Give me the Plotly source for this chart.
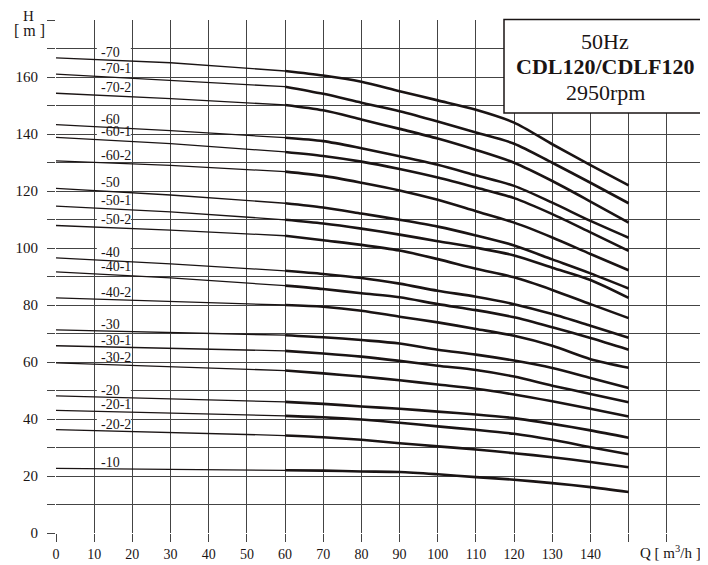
import plotly.graph_objects as go

# ---------------- data ----------------
Q_THIN = [0, 30, 60]
Q_THICK = [60, 70, 80, 90, 100, 110, 120, 130, 140, 150]

labels = ["-70", "-70-1", "-70-2", "-60", "-60-1", "-60-2", "-50", "-50-1", "-50-2",
          "-40", "-40-1", "-40-2", "-30", "-30-1", "-30-2", "-20", "-20-1", "-20-2", "-10"]

# H values at Q = 0, 30, 60, 70, 80, 90, 100, 110, 120, 130, 140, 150
h_70   = [166.7, 165.0, 162.1, 160.5, 158.3, 155.0, 151.8, 148.5, 144.0, 136.4, 129.1, 122.0]
h_70_1 = [161.0, 158.9, 156.6, 154.1, 151.0, 148.0, 144.4, 140.5, 136.6, 129.9, 122.9, 115.7]
h_70_2 = [154.3, 152.4, 150.2, 148.3, 145.1, 141.8, 138.4, 134.4, 129.9, 123.5, 116.3, 108.9]
h_60   = [143.3, 141.2, 138.7, 137.5, 135.0, 132.2, 129.2, 125.5, 121.8, 115.9, 109.5, 103.6]
h_60_1 = [138.8, 136.6, 133.7, 132.3, 130.3, 127.7, 124.7, 121.2, 117.5, 111.9, 105.5, 99.0]
h_60_2 = [130.6, 129.0, 126.8, 125.3, 122.9, 120.2, 116.9, 112.9, 108.9, 103.7, 97.9, 92.2]
h_50   = [120.9, 118.6, 115.7, 114.2, 112.1, 109.9, 107.5, 104.4, 100.9, 96.0, 91.1, 85.8]
h_50_1 = [114.7, 112.7, 109.9, 108.6, 106.8, 104.7, 102.4, 100.1, 97.4, 93.1, 88.8, 82.5]
h_50_2 = [107.9, 106.3, 104.3, 102.7, 101.1, 99.1, 96.1, 92.7, 89.7, 85.3, 80.3, 75.4]
h_40   = [96.5, 94.4, 92.0, 90.9, 89.5, 87.5, 85.0, 82.9, 80.3, 76.8, 72.7, 68.5]
h_40_1 = [91.6, 89.5, 86.8, 85.6, 84.1, 82.7, 80.3, 78.2, 75.7, 72.2, 68.4, 64.3]
h_40_2 = [82.5, 81.3, 80.0, 79.4, 78.0, 75.9, 73.9, 71.6, 69.2, 65.7, 61.0, 58.0]
h_30   = [71.3, 70.4, 69.4, 68.7, 67.7, 66.5, 64.3, 62.6, 60.5, 57.9, 54.4, 50.9]
h_30_1 = [65.7, 64.9, 63.9, 63.0, 61.9, 60.4, 58.7, 57.2, 54.9, 51.7, 48.8, 45.9]
h_30_2 = [59.7, 58.4, 57.0, 56.0, 54.9, 53.6, 52.1, 50.6, 48.6, 46.2, 43.6, 40.9]
h_20   = [48.1, 47.1, 46.0, 45.3, 44.4, 43.6, 42.6, 41.6, 40.3, 38.3, 36.0, 33.4]
h_20_1 = [43.0, 42.0, 41.1, 40.6, 39.8, 38.7, 37.4, 36.2, 34.8, 32.7, 30.1, 27.6]
h_20_2 = [36.3, 35.3, 34.2, 33.6, 32.7, 31.5, 30.4, 29.3, 28.0, 26.6, 24.9, 23.1]
h_10   = [22.7, 22.3, 22.0, 21.9, 21.6, 21.4, 20.6, 19.6, 18.7, 17.5, 16.1, 14.4]

curves = [h_70, h_70_1, h_70_2, h_60, h_60_1, h_60_2, h_50, h_50_1, h_50_2,
          h_40, h_40_1, h_40_2, h_30, h_30_1, h_30_2, h_20, h_20_1, h_20_2, h_10]

x_tickvals = list(range(0, 171, 10))
x_ticktext = [str(v) if v <= 140 else " " for v in x_tickvals]
y_tickvals = list(range(0, 181, 10))
y_ticktext = [str(v) if (v % 20 == 0 and v <= 160) else " " for v in y_tickvals]

title_lines = ["50Hz", "<b>CDL120/CDLF120</b>", "2950rpm"]

# ---------------- figure ----------------
SERIF = "Liberation Serif, Times New Roman, serif"
INK = "#1a1414"
GRID = "#444444"

# the page body adds an 8px margin; size the figure so it fills the window exactly
OFF = 8
FW, FH = 708 - OFF, 565 - OFF
L, R, T, B = 56 - OFF, 3, 20 - OFF, 32
PW, PH = FW - L - R, FH - T - B

def px(x):  # window pixel x -> paper
    return (x - OFF - L) / PW

def py(y):  # window pixel y -> paper
    return (FH - B - (y - OFF)) / PH

fig = go.Figure()
shapes = []
annotations = []

LABEL_Q = 10.7
for lab, h in zip(labels, curves):
    fig.add_trace(go.Scatter(x=Q_THIN, y=h[:3], mode="lines",
                             line=dict(color=INK, width=1.3), hoverinfo="skip"))
    fig.add_trace(go.Scatter(x=Q_THICK, y=h[2:], mode="lines",
                             line=dict(color=INK, width=2.6, shape="spline", smoothing=0.8),
                             hoverinfo="skip"))
    h0 = h[0]
    shapes.append(dict(type="rect", xref="x", yref="y", layer="between",
                       x0=LABEL_Q, x1=LABEL_Q + 8.9, y0=h0 + 0.6, y1=h0 + 4.0,
                       fillcolor="white", line=dict(width=0)))
    annotations.append(dict(x=LABEL_Q + 0.5, y=h0, xref="x", yref="y",
                            text=lab, showarrow=False, xanchor="left", yanchor="bottom",
                            yshift=-4, font=dict(family=SERIF, size=14, color=INK)))

shapes.append(dict(type="rect", xref="paper", yref="paper", layer="above",
                   x0=px(504), x1=px(704.5), y0=py(113), y1=py(19.5),
                   fillcolor="white", line=dict(color=INK, width=1.5)))
for line_text, ycen in zip(title_lines, [41, 66, 92]):
    annotations.append(dict(x=px(605), y=py(ycen), xref="paper", yref="paper",
                            text=line_text, showarrow=False, xanchor="center", yanchor="middle",
                            font=dict(family=SERIF, size=22, color=INK)))

annotations.append(dict(x=px(28), y=py(16), xref="paper", yref="paper", text="H",
                        showarrow=False, xanchor="center", yanchor="middle",
                        font=dict(family=SERIF, size=15, color=INK)))
annotations.append(dict(x=px(29), y=py(30), xref="paper", yref="paper", text="[ m ]",
                        showarrow=False, xanchor="center", yanchor="middle",
                        font=dict(family=SERIF, size=16, color=INK)))
annotations.append(dict(x=px(670), y=py(552), xref="paper", yref="paper",
                        text="Q [ m<sup>3</sup>/h ]",
                        showarrow=False, xanchor="center", yanchor="middle",
                        font=dict(family=SERIF, size=15, color=INK)))

fig.update_layout(
    width=FW, height=FH,
    margin=dict(l=L, r=R, t=T, b=B, pad=0),
    paper_bgcolor="white", plot_bgcolor="white",
    showlegend=False,
    shapes=shapes, annotations=annotations,
    xaxis=dict(range=[0, 170], tickmode="array", tickvals=x_tickvals, ticktext=x_ticktext,
               showgrid=True, gridcolor=GRID, gridwidth=1, zeroline=False, showline=False,
               ticks="outside", ticklen=8, tickcolor=GRID, tickwidth=1, automargin=False,
               tickfont=dict(family=SERIF, size=14, color=INK)),
    yaxis=dict(range=[0, 180], tickmode="array", tickvals=y_tickvals, ticktext=y_ticktext,
               showgrid=True, gridcolor=GRID, gridwidth=1, zeroline=False, showline=False,
               ticks="outside", ticklen=8, tickcolor=GRID, tickwidth=1, automargin=False,
               ticklabelstandoff=6,
               tickfont=dict(family=SERIF, size=15, color=INK)),
)

fig.write_html("out.html")
